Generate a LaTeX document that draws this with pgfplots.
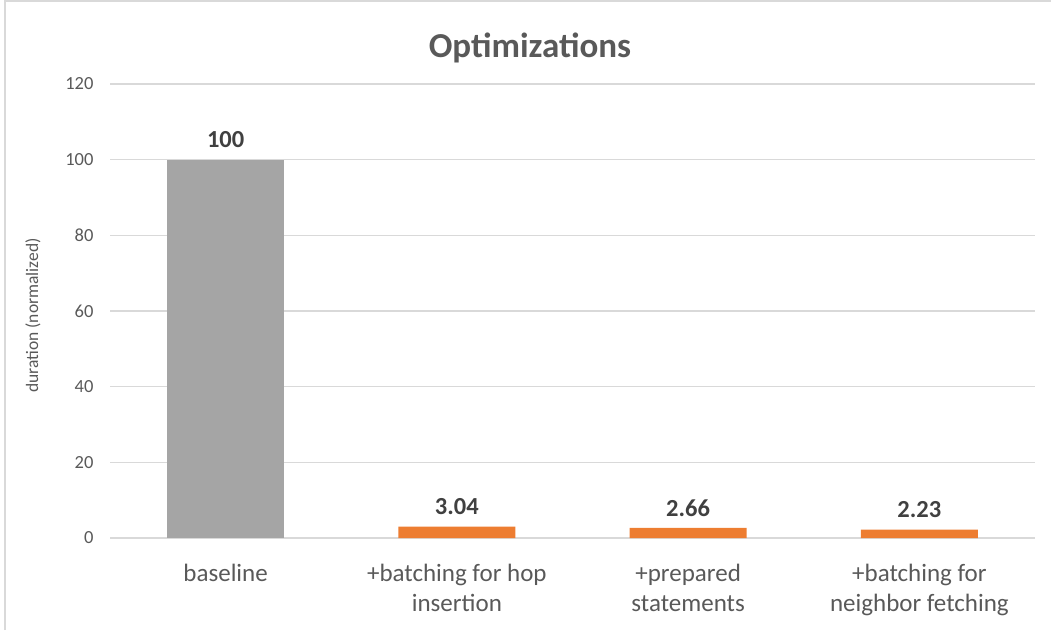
\documentclass[border=0pt]{standalone}
\usepackage{pgfplots}
\pgfplotsset{compat=1.18}
\usepackage{fontspec}
\setmainfont{Carlito}
\definecolor{txt}{HTML}{595959}
\definecolor{lbl}{HTML}{404040}
\definecolor{gridc}{HTML}{D9D9D9}
\definecolor{framec}{HTML}{D9D9D9}
\definecolor{gbar}{HTML}{A5A5A5}
\definecolor{obar}{HTML}{ED7D31}
\begin{document}
\begin{tikzpicture}[x=1pt,y=1pt]
\useasboundingbox (0,0) rectangle (1051,630);
\draw[color=framec, line width=1.5pt] (5,0) -- (5,629.2) -- (1051,629.2);
\node[font=\fontsize{35}{40}\selectfont\bfseries, text=txt] at (530,582) {Optimizations};
\begin{axis}[
  at={(110pt,92pt)}, anchor=south west,
  scale only axis, width=925pt, height=454pt,
  xmin=-0.5, xmax=3.5, ymin=0, ymax=120,
  ytick={0,20,...,120},
  xtick={0,1,2,3},
  xticklabels={baseline, {+batching for hop\\insertion}, {+prepared\\statements}, {+batching for\\neighbor fetching}},
  ymajorgrids,
  grid style={color=gridc, line width=1.2pt},
  axis x line*=bottom, axis y line*=left,
  y axis line style={draw=none},
  x axis line style={draw=gridc, line width=1.2pt, -},
  major tick length=0pt,
  yticklabel style={font=\fontsize{18.5}{22}\selectfont, text=txt, xshift=-13pt},
  xticklabel style={font=\fontsize{25}{30}\selectfont, text=txt, align=center, yshift=-23pt},
  /pgf/number format/assume math mode=true,
  ylabel={duration (normalized)},
  ylabel style={font=\fontsize{17.5}{20}\selectfont, text=txt, at={(axis description cs:-0.0832,0.49)}, anchor=center},
  ybar, bar width=117pt,
  nodes near coords,
  nodes near coords style={font=\fontsize{24.5}{28}\selectfont\bfseries, text=lbl, yshift=8pt, /pgf/number format/fixed, /pgf/number format/precision=2, /pgf/number format/assume math mode=true},
]
\addplot[fill=gbar, draw=none, bar shift=0pt] coordinates {(0,100)};
\addplot[fill=obar, draw=none, bar shift=0pt] coordinates {(1,3.04) (2,2.66) (3,2.23)};
\end{axis}
\end{tikzpicture}
\end{document}
